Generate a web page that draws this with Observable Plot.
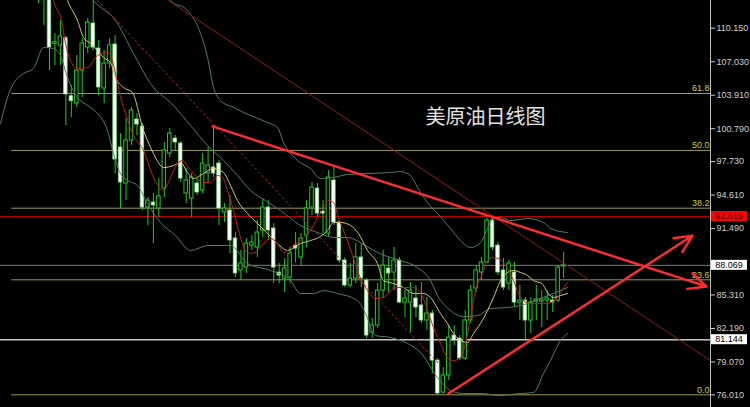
<!DOCTYPE html>
<html><head><meta charset="utf-8">
<script src="https://cdn.jsdelivr.net/npm/d3@7"></script>
<script src="https://cdn.jsdelivr.net/npm/@observablehq/plot@0.6"></script>
<style>
html,body{margin:0;padding:0;background:#000;}
#chart{width:750px;height:407px;overflow:hidden;background:#000;}
</style></head><body><div id="chart"></div>
<script>
// ---- candles (index = position in arrays) ----
const opens = [114.2,113.0,113.5,108.7,108.54,109.22,103.82,103.14,106.21,108.35,
 110.59,108.26,104.53,106.86,108.63,99.04,95.69,99.69,101.65,101.00,
 93.45,93.92,93.36,95.22,98.48,99.88,99.41,94.76,94.29,95.69,
 95.04,96.62,97.18,97.55,92.99,93.17,90.57,87.59,87.86,89.91,
 89.73,91.31,93.45,91.50,87.40,86.84,86.93,89.91,88.80,90.85,
 93.45,95.22,93.08,91.03,95.97,92.06,88.52,86.19,86.84,88.80,
 86.65,81.81,82.46,85.72,87.77,87.40,88.52,84.60,84.60,84.98,
 84.33,82.93,83.58,79.20,76.22,77.81,81.53,81.25,79.39,82.93,
 85.91,87.40,88.33,92.24,89.91,87.59,86.37,87.40,84.60,84.79,
 82.93,84.70,84.70,84.79,84.79,84.79,87.96];
const highs = [114.8,114.2,113.9,109.66,110.87,109.38,104.81,107.61,109.19,111.05,
 112.9,109.00,108.07,109.19,109.47,100.34,101.74,102.77,102.21,101.28,
 94.38,94.76,96.15,99.50,100.81,100.16,99.60,97.08,96.62,96.15,
 98.48,99.04,101.09,97.83,93.82,94.57,91.12,89.45,90.57,90.85,
 92.24,94.29,94.10,91.96,88.24,88.70,89.73,91.12,91.03,94.10,
 95.78,95.69,94.10,96.90,97.36,92.24,88.80,88.24,90.10,90.10,
 86.84,83.12,86.37,89.45,88.80,89.73,88.80,85.72,86.47,86.19,
 86.47,85.07,83.86,79.39,78.55,82.46,82.46,81.53,83.86,86.19,
 88.05,88.80,92.43,92.62,90.19,88.70,88.52,88.33,86.19,85.07,
 85.07,86.19,85.72,85.72,85.26,88.05,89.26];
const lows = [112.45,110.4,106.21,106.68,106.68,101.09,101.83,102.77,103.70,107.80,
 108.07,103.88,103.14,106.40,96.62,93.36,94.10,99.23,100.16,93.17,
 91.78,90.10,92.52,94.38,98.11,98.76,95.78,93.82,92.52,94.57,
 94.76,95.69,96.25,91.78,92.06,89.17,86.93,86.65,87.31,89.45,
 88.80,90.66,90.38,86.37,86.37,85.54,86.37,88.33,88.05,89.73,
 92.71,92.52,91.03,90.66,91.78,88.24,86.00,86.00,86.37,86.00,
 81.25,81.25,82.18,84.98,85.44,85.72,84.51,83.21,81.81,83.21,
 82.65,82.00,77.99,76.01,76.13,77.34,80.60,79.20,79.20,82.65,
 85.54,86.65,88.24,89.45,87.12,85.72,85.72,84.14,82.93,81.15,
 81.72,82.93,82.28,82.93,83.67,84.60,86.84];
const closes = [113.0,113.6,108.35,108.85,109.38,103.98,103.35,106.21,108.73,110.68,
 108.35,104.63,106.86,108.54,97.92,95.78,99.69,102.49,101.18,93.45,
 94.10,93.64,94.48,98.76,100.34,99.51,96.15,95.97,96.25,94.85,
 97.55,97.36,96.62,93.36,93.36,90.38,87.31,88.24,90.10,90.19,
 91.12,93.45,91.31,87.86,87.12,87.77,89.17,89.63,90.57,93.36,
 95.32,92.89,92.89,96.25,92.06,88.52,86.19,86.84,88.80,86.84,
 81.53,82.46,85.72,88.05,87.31,88.52,84.60,84.98,85.72,84.14,
 82.93,83.58,79.20,76.13,77.81,81.34,81.07,79.39,82.93,85.72,
 87.59,88.33,92.24,89.73,87.40,86.00,88.24,84.60,84.79,82.93,
 84.60,84.88,84.88,84.98,84.60,87.86,88.07];

// ---- indicator lines [candle index, price] ----
const redMA = [[2.19,114.1],[2.74,112.73],[4.20,110.87],[4.94,108.73],[5.85,107.14],[7.13,106.40],[8.96,106.49],[10.79,107.61],[12.61,107.89],[13.16,107.61],[14.08,105.93],[14.99,103.70],[15.90,102.21],[17.18,100.34],[19.20,98.76],[21.02,96.25],[22.85,95.04],[24.13,96.25],[25.41,97.55],[26.33,97.83],[27.42,97.18],[28.70,96.43],[29.98,95.78],[31.44,95.78],[32.72,96.43],[33.64,96.25],[34.55,95.04],[35.65,93.17],[36.56,91.31],[37.84,89.45],[38.76,89.17],[40.04,89.45],[41.13,90.10],[42.41,90.57],[43.69,90.10],[44.79,89.26],[46.07,89.73],[47.90,90.38],[49.73,91.31],[51.01,92.52],[52.10,93.36],[53.02,94.10],[53.93,93.92],[54.84,92.52],[56.12,90.84],[57.40,88.98],[58.50,87.31],[60.15,85.72],[61.61,84.98],[63.07,85.07],[64.35,85.72],[65.63,86.0],[66.73,86.0],[68.37,86.0],[69.84,85.5],[71.12,83.86],[72.21,82.28],[73.49,80.79],[74.77,79.48],[75.87,79.20],[77.15,79.48],[78.06,80.79],[78.98,83.21],[79.89,85.72],[81.17,87.31],[82.08,88.52],[83.00,88.80],[84.10,88.70],[85.01,88.33],[85.92,87.59],[86.84,86.65],[87.75,85.44],[88.67,84.79],[89.95,84.51],[91.22,84.51],[92.32,84.51],[93.60,84.61],[94.88,85.07],[96.0,86.00],[96.71,86.47]];
const yellowMA = [[4.39,114.1],[5.30,112.73],[7.13,110.87],[8.23,109.28],[9.51,108.73],[10.79,108.07],[11.88,107.42],[13.16,106.96],[14.08,105.56],[15.54,104.63],[17.18,104.16],[18.10,102.77],[19.01,100.90],[19.93,99.69],[21.02,98.48],[22.85,97.18],[24.68,97.36],[25.96,97.64],[27.24,96.71],[28.34,96.15],[30.16,96.62],[31.99,97.08],[33.82,96.71],[35.10,95.50],[36.38,94.10],[38.21,92.89],[40.04,91.96],[41.86,91.03],[43.69,90.10],[45.52,89.45],[47.90,90.10],[49.73,90.38],[51.19,90.66],[52.83,91.31],[53.93,92.06],[55.21,92.06],[57.04,91.78],[58.50,91.03],[60.15,89.45],[61.97,88.24],[63.07,86.65],[64.90,86.37],[66.73,86.00],[68.56,85.44],[70.38,85.44],[71.66,85.07],[73.49,83.58],[74.77,82.65],[75.87,81.72],[77.15,81.07],[78.43,80.88],[79.52,81.72],[80.80,82.65],[82.08,83.86],[83.18,85.07],[84.46,86.65],[85.74,87.40],[86.84,87.59],[88.12,87.40],[89.40,87.12],[90.49,86.65],[92.05,86.37],[93.05,85.54],[94.15,85.07],[95.43,85.26],[96.71,85.44]];
const bbUpper = [[20.5,116.5],[24.13,112.73],[27.24,111.80],[29.62,109.66],[30.90,107.42],[31.99,104.63],[33.27,103.42],[35.65,102.77],[38.76,102.02],[41.86,101.37],[43.69,100.90],[44.79,99.51],[47.35,97.83],[49.73,97.08],[51.55,96.15],[53.93,96.25],[56.49,96.53],[60.15,96.62],[64.35,96.71],[66.18,96.80],[68.01,96.43],[69.29,95.32],[71.12,93.92],[72.94,92.89],[75.32,91.50],[77.15,90.38],[78.98,89.73],[80.80,90.19],[82.08,91.50],[83.18,92.52],[84.46,92.52],[86.29,92.24],[89.40,92.43],[92.32,92.06],[93.60,91.50],[96.71,91.12]];
const bbMid = [[7.68,114.6],[10.05,112.73],[14.08,110.87],[17.37,107.79],[20.48,105.00],[24.68,102.95],[27.79,101.09],[30.90,99.23],[33.82,97.83],[36.38,96.43],[38.76,95.04],[41.50,94.10],[44.24,93.17],[47.90,91.78],[51.55,91.03],[53.93,90.66],[56.49,90.66],[58.87,90.19],[61.24,89.45],[63.80,88.89],[66.18,88.52],[69.29,87.86],[71.66,86.65],[72.94,85.26],[75.32,83.86],[77.70,83.30],[80.26,83.39],[82.63,84.05],[85.74,84.14],[88.12,84.33],[91.77,84.98],[96.71,86.00]];
const bbLower = [[-6.95,101.28],[-5.67,103.70],[-4.57,105.00],[-2.74,105.93],[-0.91,106.40],[0.91,108.35],[2.74,108.26],[4.02,107.61],[5.30,105.56],[7.13,103.70],[8.96,102.95],[10.79,102.21],[12.61,100.62],[13.71,98.48],[14.99,96.62],[16.27,95.97],[18.10,95.50],[19.93,93.82],[22.30,92.06],[25.05,90.84],[27.79,89.45],[30.90,89.91],[35.10,89.91],[38.21,88.24],[42.41,87.59],[46.07,86.65],[47.90,85.44],[50.27,85.44],[52.10,85.72],[54.66,85.44],[58.32,84.79],[59.78,83.58],[61.61,81.53],[64.35,81.35],[67.46,80.79],[69.84,79.95],[72.94,77.62],[75.32,76.41],[77.70,76.13],[81.35,76.13],[83.91,75.94],[88.12,76.13],[90.49,76.22],[92.32,78.00],[93.60,79.20],[95.43,81.07],[96.71,81.72]];

// ---- drawn objects ----
const fibLabels = ["0.0","23.6","38.2","50.0","61.8"];
const fibPrices = [76.01, 86.72, 93.39, 98.77, 104.07];
const fibStart = -4.9;
const tagPrices = [92.616, 88.069, 81.144];
const trendThin = [[23.77,112.73],[122.85,79.20]];
const trendDotted = [[10.79,112.73],[73.49,78.74]];
const arrowsData = [
  {x1:31.81, y1:101.0, x2:122.1, y2:86.1},
  {x1:74.95, y1:76.13, x2:119.56, y2:90.84}
];
const tickValues = [76.01,79.07,82.19,85.31,91.49,94.61,97.73,100.79,103.91,107.03,110.15];
const title = "美原油日线图";

const xDomain = [-6.95, 122.85];
const yDomain = [74.83, 112.73];
const green = "#26c626";
const bandColor = "#4e7f63";

const candles = opens.map((o,i)=>({i, o, h:highs[i], l:lows[i], c:closes[i]}));
const fibs = fibPrices.map((p,k)=>({p, label:fibLabels[k]}));
const half = 0.32;

const chart = Plot.plot({
  width: 750, height: 407,
  marginLeft: 0, marginRight: 40, marginTop: 0, marginBottom: 0,
  style: {background:"#000", color:"#cfcfcf", fontFamily:"Liberation Sans, Arial, sans-serif", fontSize:"9px"},
  x: {domain: xDomain, axis: null},
  y: {domain: yDomain, axis: "right", ticks: tickValues, tickFormat: d3.format(".3f"), tickSize: 4, tickPadding: 2, label: null},
  marks: [
    Plot.ruleY(fibs, {y:"p", x1: ()=>fibStart, x2: ()=>xDomain[1], stroke:"#9c9a55", strokeWidth:1}),
    Plot.text(fibs, {y:"p", text:"label", frameAnchor:"right", textAnchor:"end", dx:-1, dy:-5, fill:"#cfcc3c", fontSize:9}),
    Plot.ruleY([tagPrices[0]], {stroke:"#c00000", strokeWidth:1}),
    Plot.ruleY([tagPrices[1]], {stroke:"#7c7c84", strokeWidth:1}),
    Plot.ruleY([tagPrices[2]], {stroke:"#c4c4c4", strokeWidth:1.6}),
    Plot.ruleX(candles, {x:"i", y1:"l", y2:"h", stroke:green, strokeWidth:1}),
    Plot.rect(candles.filter(d=>d.c>=d.o), {x1:d=>d.i-half, x2:d=>d.i+half, y1:"o", y2:"c", fill:"#000", stroke:green, strokeWidth:1}),
    Plot.rect(candles.filter(d=>d.c<d.o), {x1:d=>d.i-half, x2:d=>d.i+half, y1:"o", y2:"c", fill:"#ffffff", stroke:"#7be07b", strokeWidth:0.8}),
    Plot.line(bbUpper, {stroke:bandColor, strokeWidth:1, curve:"monotone-x"}),
    Plot.line(bbMid, {stroke:bandColor, strokeWidth:1, curve:"monotone-x"}),
    Plot.line(bbLower, {stroke:bandColor, strokeWidth:1, curve:"monotone-x"}),
    Plot.line(yellowMA, {stroke:"#d4c878", strokeWidth:1, curve:"monotone-x"}),
    Plot.line(redMA, {stroke:"#c01e1e", strokeWidth:1, curve:"monotone-x"}),
    Plot.line(trendThin, {stroke:"#9a1616", strokeWidth:1}),
    Plot.line(trendDotted, {stroke:"#b42020", strokeWidth:1, strokeDasharray:"2,3"}),
    Plot.arrow(arrowsData, {x1:"x1", y1:"y1", x2:"x2", y2:"y2", stroke:"#ff2e2e", strokeWidth:2.4, headLength:12, headAngle:50}),
    Plot.ruleX([xDomain[1]], {stroke:"#bdbdbd", strokeWidth:1}),
    Plot.text([title], {text:d=>d, frameAnchor:"top-left", dx:425, dy:117, textAnchor:"start", lineAnchor:"middle", fontSize:20, fill:"#e4e4e4", fontFamily:"Noto Sans CJK SC"})
  ]
});
document.getElementById("chart").appendChild(chart);

// price tags in the right margin, placed with the plot's own y scale
const ys = chart.scale("y");
const svg = d3.select(chart);
const tagStyle = [{bg:"#ff0000", fg:"#1a0000"}, {bg:"#ffffff", fg:"#000"}, {bg:"#ffffff", fg:"#000"}];
tagPrices.forEach((p,k)=>{
  const y = ys.apply(p);
  svg.append("rect").attr("x",711).attr("y",y-5).attr("width",36).attr("height",10).attr("fill",tagStyle[k].bg);
  svg.append("text").attr("x",729).attr("y",y).attr("dy","0.36em").attr("text-anchor","middle")
    .attr("fill",tagStyle[k].fg).attr("font-size",9).attr("font-family","Liberation Sans, Arial, sans-serif")
    .text(d3.format(".3f")(p));
});
</script></body></html>
